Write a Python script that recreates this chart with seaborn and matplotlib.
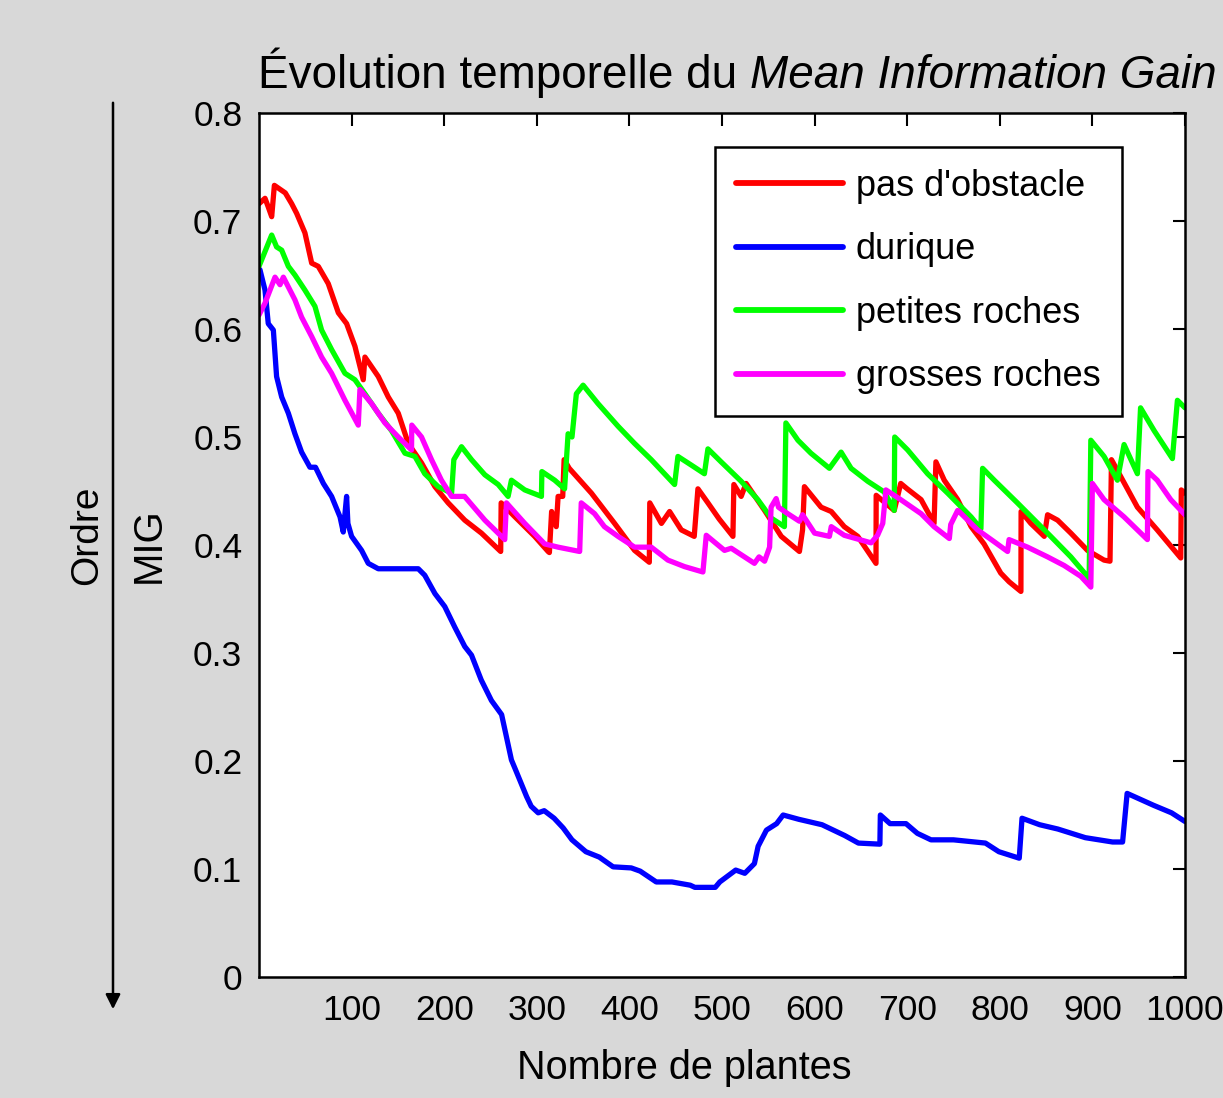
import numpy as np
import pandas as pd
import matplotlib
matplotlib.use("Agg")
import matplotlib.pyplot as plt
import seaborn as sns
from matplotlib import font_manager as fm

# ---------------- data ----------------
series_names = ["pas d'obstacle", "durique", "petites roches", "grosses roches"]
series_colors = ["#ff0000", "#0000ff", "#00ff00", "#ff00ff"]

red_x = [0, 6.5, 10, 13.7, 16.6, 28.4, 35.3, 40.7, 49.6, 56.9, 64, 74.8, 85.7, 94.6, 103.6, 112.6, 114.4,
         128.8, 139.6, 150.4, 161.2, 175.5, 190, 204.3, 222.2, 240.2, 261, 261.5, 276.5, 297.7, 312.2,
         313.6, 316, 321, 323, 328, 329.5, 335, 359, 384, 405.6, 421.5, 422, 434.6, 443.4, 456, 470, 474,
         484.8, 497, 511.8, 512.8, 520.7, 526, 546, 564, 583.6, 587, 589, 607, 618, 632, 646.6, 666.3,
         666.5, 686, 693, 700, 715, 729, 731, 740, 754.5, 769, 783, 801, 810, 822.8, 823, 833.5, 848,
         851.6, 862.4, 876.7, 894.7, 912.6, 919, 920.6, 927, 948.6, 970, 995.4, 996, 1000]
red_y = [0.716, 0.721, 0.713, 0.704, 0.733, 0.726, 0.716, 0.707, 0.689, 0.661, 0.658, 0.642, 0.615, 0.605,
         0.584, 0.553, 0.574, 0.556, 0.537, 0.522, 0.494, 0.476, 0.454, 0.439, 0.423, 0.411, 0.394, 0.439,
         0.426, 0.408, 0.394, 0.393, 0.431, 0.417, 0.445, 0.445, 0.479, 0.471, 0.448, 0.420, 0.395, 0.384,
         0.439, 0.420, 0.431, 0.414, 0.408, 0.452, 0.439, 0.424, 0.408, 0.456, 0.445, 0.457, 0.432, 0.408,
         0.394, 0.414, 0.454, 0.435, 0.431, 0.417, 0.408, 0.383, 0.446, 0.432, 0.457, 0.452, 0.442, 0.420,
         0.477, 0.460, 0.442, 0.417, 0.401, 0.374, 0.366, 0.357, 0.431, 0.420, 0.408, 0.428, 0.423, 0.411,
         0.395, 0.386, 0.385, 0.479, 0.469, 0.435, 0.414, 0.388, 0.451, 0.448]

blue_x = [1, 6.5, 10, 15.5, 19, 24.5, 31.7, 38.8, 46, 55, 61, 69.5, 78.4, 87.5, 91, 94.6, 96, 100, 110.8,
          118, 128.8, 172, 179, 190, 200.6, 211.4, 222.2, 229.5, 240, 251, 262, 272.6, 277, 289, 294,
          301.5, 308, 318.7, 328.5, 338, 353, 367.5, 382.4, 402, 411.7, 429, 446, 465.7, 470.7, 492.7,
          497.6, 514.8, 524.6, 535, 539, 548, 559, 566, 583, 608, 632.5, 647.3, 670.5, 671, 681.5, 698.7,
          711, 725.7, 750, 784.5, 799, 821, 824, 843, 862.7, 892.4, 921.8, 932.6, 937.5, 966, 985.5, 1000]
blue_y = [0.655, 0.636, 0.605, 0.599, 0.556, 0.537, 0.522, 0.503, 0.486, 0.472, 0.472, 0.457, 0.445, 0.426,
          0.412, 0.445, 0.420, 0.408, 0.395, 0.383, 0.378, 0.378, 0.372, 0.355, 0.343, 0.324, 0.306, 0.298,
          0.275, 0.256, 0.243, 0.201, 0.192, 0.167, 0.158, 0.152, 0.154, 0.147, 0.138, 0.127, 0.116, 0.111,
          0.102, 0.101, 0.098, 0.088, 0.088, 0.085, 0.083, 0.083, 0.088, 0.099, 0.096, 0.105, 0.121, 0.136,
          0.142, 0.150, 0.146, 0.141, 0.131, 0.124, 0.123, 0.150, 0.142, 0.142, 0.133, 0.127, 0.127, 0.124,
          0.116, 0.110, 0.147, 0.141, 0.137, 0.129, 0.125, 0.125, 0.170, 0.159, 0.152, 0.144]

green_x = [0, 13.7, 19, 24.5, 31.7, 38.8, 49.6, 60.4, 67.6, 78.4, 92.8, 103.6, 114.4, 128.8, 143, 157.6,
           168.4, 179, 193.5, 208, 210.4, 218.7, 229.5, 243.9, 258.3, 269, 272.6, 287, 305, 305.5, 319.3,
           330, 333.8, 338, 342.7, 350, 366, 387.7, 405.6, 423.6, 448.8, 452.4, 466.8, 481, 484.8, 499,
           520.7, 538.7, 553, 567.4, 569, 582, 596, 616, 628.6, 639.4, 657.4, 675.3, 686, 686.5, 700.5,
           722, 743.7, 769, 779.6, 781.4, 794, 819, 855, 876.7, 896.5, 898.3, 912.6, 927, 934.2, 948.6,
           952, 966.6, 986.4, 991.8, 1000]
green_y = [0.658, 0.687, 0.676, 0.673, 0.658, 0.650, 0.636, 0.621, 0.599, 0.581, 0.559, 0.553, 0.540,
           0.522, 0.506, 0.485, 0.482, 0.466, 0.454, 0.448, 0.479, 0.491, 0.479, 0.465, 0.456, 0.445, 0.460,
           0.451, 0.445, 0.468, 0.460, 0.452, 0.503, 0.500, 0.540, 0.548, 0.531, 0.510, 0.494, 0.479, 0.456,
           0.482, 0.474, 0.466, 0.489, 0.477, 0.459, 0.442, 0.425, 0.417, 0.513, 0.497, 0.485, 0.471, 0.486,
           0.471, 0.459, 0.449, 0.432, 0.500, 0.488, 0.466, 0.448, 0.426, 0.415, 0.471, 0.460, 0.439, 0.408,
           0.389, 0.369, 0.497, 0.482, 0.460, 0.493, 0.466, 0.527, 0.506, 0.480, 0.534, 0.527]

magenta_x = [0, 6.5, 17.3, 22.7, 26.3, 38.8, 46, 56.9, 67.6, 78.4, 92.8, 107.2, 109, 121.6, 136, 150.4,
             164.7, 165, 175.5, 186.3, 197, 208, 222, 243.9, 265.4, 267.2, 287, 308.5, 323, 346.3, 348,
             362.4, 373, 387.7, 405.6, 423.6, 441.6, 459.5, 479.4, 483, 502.7, 510, 535, 540, 546, 551.4,
             553, 558.5, 561, 571, 583.6, 587, 600, 616, 618, 632, 661, 668, 673.6, 677, 693, 715, 729,
             745.5, 747, 754.5, 756, 776, 794, 808.4, 810, 830, 851.6, 869.5, 887.5, 898.3, 900, 912.6,
             934.2, 959.4, 960, 970, 984.6, 1000]
magenta_y = [0.613, 0.624, 0.648, 0.641, 0.648, 0.627, 0.611, 0.593, 0.574, 0.559, 0.534, 0.511, 0.544,
             0.531, 0.513, 0.500, 0.488, 0.511, 0.500, 0.479, 0.460, 0.445, 0.445, 0.423, 0.405, 0.439,
             0.420, 0.401, 0.398, 0.394, 0.439, 0.429, 0.417, 0.408, 0.398, 0.398, 0.386, 0.380, 0.375,
             0.409, 0.395, 0.397, 0.383, 0.389, 0.385, 0.398, 0.435, 0.443, 0.435, 0.429, 0.422, 0.428,
             0.411, 0.408, 0.417, 0.409, 0.402, 0.409, 0.420, 0.451, 0.442, 0.429, 0.417, 0.406, 0.419,
             0.432, 0.431, 0.414, 0.403, 0.394, 0.405, 0.398, 0.389, 0.381, 0.371, 0.361, 0.457, 0.442,
             0.426, 0.405, 0.468, 0.460, 0.442, 0.428]

x_ticks = [100, 200, 300, 400, 500, 600, 700, 800, 900, 1000]
y_ticks = [0, 0.1, 0.2, 0.3, 0.4, 0.5, 0.6, 0.7, 0.8]
y_ticklabels = ["0", "0.1", "0.2", "0.3", "0.4", "0.5", "0.6", "0.7", "0.8"]

title_normal = "Évolution temporelle du "
title_italic = "Mean Information Gain"
x_label = "Nombre de plantes"
y_label = "MIG"
side_label = "Ordre"

# ---------------- style ----------------
sns.set_theme(style="white")
avail = {f.name for f in fm.fontManager.ttflist}
FONT = "Liberation Sans Narrow" if "Liberation Sans Narrow" in avail else "Liberation Sans"
plt.rcParams["font.family"] = [FONT, "DejaVu Sans"]
for k in ["text.color", "axes.labelcolor", "xtick.color", "ytick.color", "axes.edgecolor"]:
    plt.rcParams[k] = "black"

BG = "#d8d8d8"
fig = plt.figure(figsize=(12.23, 10.98), dpi=100, facecolor=BG)
ax = fig.add_axes([259 / 1223, 1 - 977 / 1098, (1185 - 259) / 1223, (977 - 113) / 1098])
ax.set_facecolor("white")

frames = []
for name, xs, ys in [(series_names[0], red_x, red_y), (series_names[1], blue_x, blue_y),
                     (series_names[2], green_x, green_y), (series_names[3], magenta_x, magenta_y)]:
    frames.append(pd.DataFrame({"x": xs, "y": ys, "serie": name}))
df = pd.concat(frames, ignore_index=True)

sns.lineplot(data=df, x="x", y="y", hue="serie", hue_order=series_names,
             palette=dict(zip(series_names, series_colors)), estimator=None, sort=False,
             units="serie", linewidth=3.8, ax=ax, legend=True)

ax.set_xlim(0, 1000)
ax.set_ylim(0, 0.8)
ax.set_xticks(x_ticks)
ax.set_yticks(y_ticks)
ax.set_yticklabels(y_ticklabels)
ax.tick_params(axis="both", which="both", direction="in", length=9, width=1.5,
               top=True, right=True, labelsize=25.5, colors="black", pad=12)
for s in ax.spines.values():
    s.set_visible(True)
    s.set_color("black")
    s.set_linewidth(1.8)

ax.set_xlabel(x_label, fontsize=28.5)
ax.xaxis.set_label_coords((684 - 259) / 926, -(1068 - 977) / 864)
ax.xaxis.label.set_va("center")
ax.set_ylabel(y_label, fontsize=29, labelpad=18)

leg = ax.legend(loc="upper right", bbox_to_anchor=(0.932, 0.9606), fontsize=26,
                frameon=True, fancybox=False, edgecolor="black", framealpha=1,
                handlelength=2.95, handletextpad=0.36, labelspacing=0.79, borderpad=0.6,
                borderaxespad=0)
leg.get_frame().set_linewidth(1.8)
for h in leg.get_lines():
    h.set_linewidth(4.2)

# side label with arrow
fig.text(87 / 1223, 1 - 535 / 1098, side_label, rotation=90, fontsize=28,
         ha="center", va="center")
fig.add_artist(matplotlib.patches.FancyArrowPatch(
    (113 / 1223, 1 - 100 / 1098), (113 / 1223, 1 - 1012 / 1098), transform=fig.transFigure,
    arrowstyle="-|>", mutation_scale=22, linewidth=1.8, color="black"))

# title with italic part
t1 = fig.text(258 / 1223, 1 - 88 / 1098, title_normal, fontsize=33, ha="left", va="baseline")
fig.canvas.draw()
bb = t1.get_window_extent(renderer=fig.canvas.get_renderer())
fig.text(bb.x1 / fig.bbox.width, 1 - 88 / 1098, title_italic, fontsize=33, style="italic",
         ha="left", va="baseline")

fig.savefig("out.png", dpi=100, facecolor=BG)
